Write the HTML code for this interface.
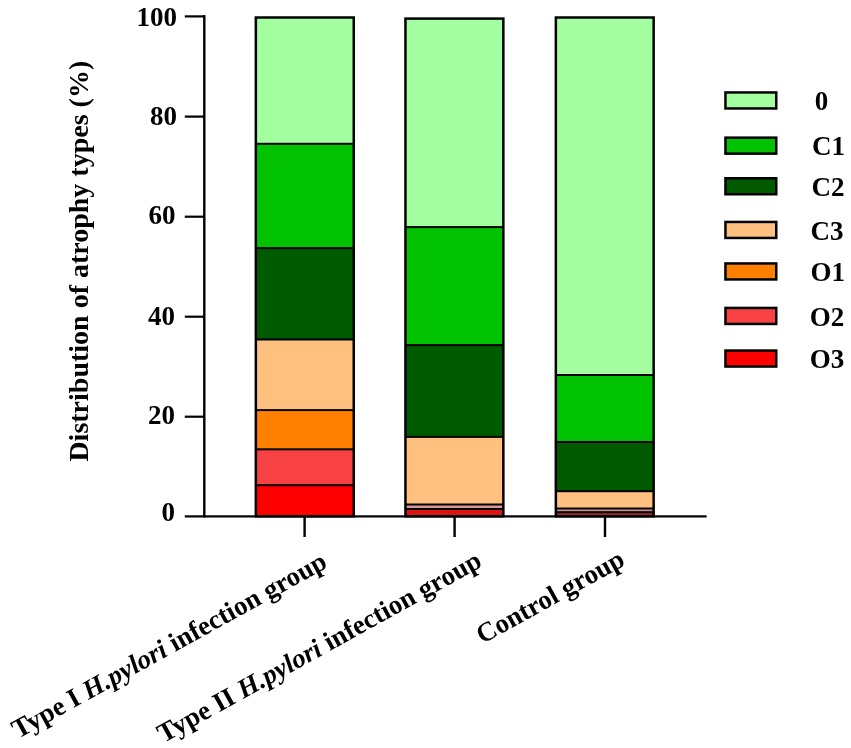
<!DOCTYPE html>
<html><head><meta charset="utf-8"><style>
html,body{margin:0;padding:0;background:#fff;}
svg{display:block;}
text{font-family:"Liberation Serif","Times New Roman",serif;font-weight:bold;fill:#000;}
.t{font-size:27px;}
.yt{font-size:28px;}
.lg{font-size:27px;}
.xl{font-size:27px;}
</style></head><body>
<svg width="851" height="748" viewBox="0 0 851 748">
<rect width="851" height="748" fill="#fff"/>
<rect x="255.80" y="17.50" width="98.00" height="126.30" fill="#A4FFA0"/>
<rect x="255.80" y="143.80" width="98.00" height="104.30" fill="#00C200"/>
<rect x="255.80" y="248.10" width="98.00" height="91.40" fill="#005A00"/>
<rect x="255.80" y="339.50" width="98.00" height="70.60" fill="#FFC080"/>
<rect x="255.80" y="410.10" width="98.00" height="39.20" fill="#FF8000"/>
<rect x="255.80" y="449.30" width="98.00" height="35.90" fill="#F84142"/>
<rect x="255.80" y="485.20" width="98.00" height="31.10" fill="#FF0000"/>
<rect x="255.80" y="142.80" width="98.00" height="2.0" fill="#000"/>
<rect x="255.80" y="247.10" width="98.00" height="2.0" fill="#000"/>
<rect x="255.80" y="338.50" width="98.00" height="2.0" fill="#000"/>
<rect x="255.80" y="409.10" width="98.00" height="2.0" fill="#000"/>
<rect x="255.80" y="448.30" width="98.00" height="2.0" fill="#000"/>
<rect x="255.80" y="484.20" width="98.00" height="2.0" fill="#000"/>
<rect x="255.85" y="17.50" width="97.90" height="498.80" fill="none" stroke="#000" stroke-width="2.5"/>
<rect x="405.40" y="18.60" width="98.00" height="208.50" fill="#A4FFA0"/>
<rect x="405.40" y="227.10" width="98.00" height="118.00" fill="#00C200"/>
<rect x="405.40" y="345.10" width="98.00" height="91.80" fill="#005A00"/>
<rect x="405.40" y="436.90" width="98.00" height="67.60" fill="#FFC080"/>
<rect x="405.40" y="504.50" width="98.00" height="4.50" fill="#D49A9A"/>
<rect x="405.40" y="509.00" width="98.00" height="7.30" fill="#DC1410"/>
<rect x="405.40" y="226.10" width="98.00" height="2.0" fill="#000"/>
<rect x="405.40" y="344.10" width="98.00" height="2.0" fill="#000"/>
<rect x="405.40" y="435.90" width="98.00" height="2.0" fill="#000"/>
<rect x="405.40" y="503.50" width="98.00" height="2.0" fill="#000"/>
<rect x="405.40" y="508.00" width="98.00" height="2.0" fill="#000"/>
<rect x="405.45" y="18.60" width="97.90" height="497.70" fill="none" stroke="#000" stroke-width="2.5"/>
<rect x="555.80" y="17.50" width="97.90" height="357.50" fill="#A4FFA0"/>
<rect x="555.80" y="375.00" width="97.90" height="67.00" fill="#00C200"/>
<rect x="555.80" y="442.00" width="97.90" height="49.20" fill="#005A00"/>
<rect x="555.80" y="491.20" width="97.90" height="17.30" fill="#FFC080"/>
<rect x="555.80" y="508.50" width="97.90" height="3.70" fill="#C88C8C"/>
<rect x="555.80" y="512.20" width="97.90" height="4.10" fill="#A02A25"/>
<rect x="555.80" y="374.00" width="97.90" height="2.0" fill="#000"/>
<rect x="555.80" y="441.00" width="97.90" height="2.0" fill="#000"/>
<rect x="555.80" y="490.20" width="97.90" height="2.0" fill="#000"/>
<rect x="555.80" y="507.50" width="97.90" height="2.0" fill="#000"/>
<rect x="555.80" y="511.20" width="97.90" height="2.0" fill="#000"/>
<rect x="555.85" y="17.50" width="97.80" height="498.80" fill="none" stroke="#000" stroke-width="2.5"/>
<rect x="184.8" y="515.3" width="521.9" height="2.2" fill="#000"/>
<rect x="203.1" y="15.1" width="2.4" height="502.4" fill="#000"/>
<rect x="184.8" y="15.30" width="20" height="2.2" fill="#000"/>
<rect x="184.8" y="115.50" width="20" height="2.2" fill="#000"/>
<rect x="184.8" y="215.60" width="20" height="2.2" fill="#000"/>
<rect x="184.8" y="315.60" width="20" height="2.2" fill="#000"/>
<rect x="184.8" y="415.60" width="20" height="2.2" fill="#000"/>
<rect x="303.40" y="516" width="2.4" height="21" fill="#000"/>
<rect x="453.40" y="516" width="2.4" height="21" fill="#000"/>
<rect x="603.80" y="516" width="2.4" height="21" fill="#000"/>
<text x="177" y="25.85" class="t" text-anchor="end">100</text>
<text x="177" y="125.25" class="t" text-anchor="end">80</text>
<text x="175.5" y="223.65" class="t" text-anchor="end">60</text>
<text x="175" y="324.85" class="t" text-anchor="end">40</text>
<text x="175" y="424.05" class="t" text-anchor="end">20</text>
<text x="175" y="520.75" class="t" text-anchor="end">0</text>
<text class="yt" transform="translate(88,261.2) rotate(-90)" text-anchor="middle">Distribution of atrophy types (%)</text>
<rect x="725.45" y="92.45" width="50.80" height="16.00" fill="#A4FFA0" stroke="#000" stroke-width="2.5"/>
<text x="814.7" y="110.10" class="lg">0</text>
<rect x="725.45" y="137.65" width="50.80" height="16.00" fill="#00C200" stroke="#000" stroke-width="2.5"/>
<text x="812.1" y="155.30" class="lg">C1</text>
<rect x="725.45" y="178.25" width="50.80" height="16.00" fill="#005A00" stroke="#000" stroke-width="2.5"/>
<text x="811.6" y="195.90" class="lg">C2</text>
<rect x="725.45" y="221.95" width="50.80" height="16.00" fill="#FFC080" stroke="#000" stroke-width="2.5"/>
<text x="810.5" y="239.60" class="lg">C3</text>
<rect x="725.45" y="263.45" width="50.80" height="16.00" fill="#FF8000" stroke="#000" stroke-width="2.5"/>
<text x="810.5" y="281.10" class="lg">O1</text>
<rect x="725.45" y="307.95" width="50.80" height="16.00" fill="#F84142" stroke="#000" stroke-width="2.5"/>
<text x="809.7" y="325.60" class="lg">O2</text>
<rect x="725.45" y="350.55" width="50.80" height="16.00" fill="#FF0000" stroke="#000" stroke-width="2.5"/>
<text x="809.7" y="368.20" class="lg">O3</text>
<text class="xl" text-anchor="end" transform="translate(328.7,566.7) rotate(-29)">Type I <tspan font-style="italic">H.pylori</tspan> infection group</text>
<text class="xl" text-anchor="end" transform="translate(483.5,565.8) rotate(-29)">Type II <tspan font-style="italic">H.pylori</tspan> infection group</text>
<text class="xl" text-anchor="end" transform="translate(626.5,564.4) rotate(-29)">Control group</text>
</svg>
</body></html>
